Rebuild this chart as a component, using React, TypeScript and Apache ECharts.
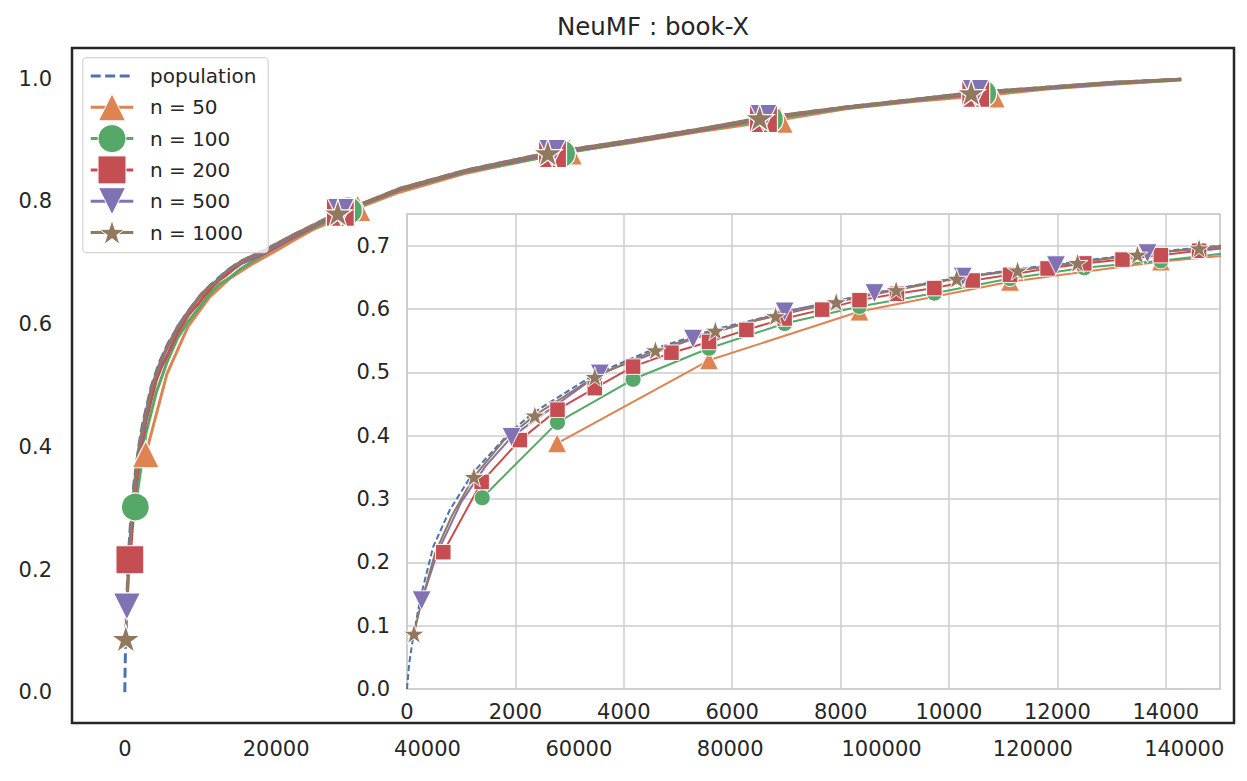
import React, { useEffect, useRef } from 'react';
import * as echarts from 'echarts';

// ---------------- data ----------------
const xPop = [0, 40, 110, 250, 485, 792, 1222, 1898, 2328, 3465, 4584, 5689, 6801, 7919, 9025, 10142, 11266, 12372, 13478, 14614, 15600, 18700, 22200, 26600, 30500, 36300, 45100, 55900, 67100, 76000, 83900, 89200, 95300, 104200, 111850, 121800, 130600, 139600];
const yPop = [0, 0.04, 0.08, 0.145, 0.225, 0.283, 0.342, 0.405, 0.436, 0.497, 0.538, 0.568, 0.591, 0.613, 0.632, 0.649, 0.663, 0.675, 0.687, 0.697, 0.704, 0.722, 0.745, 0.772, 0.792, 0.821, 0.851, 0.879, 0.900, 0.918, 0.935, 0.944, 0.954, 0.966, 0.977, 0.986, 0.994, 0.999];

const x50 = [2770, 5572, 8349, 11126, 13910, 16690, 19470, 22250, 25030, 27810, 30770, 36300, 45100, 58730, 67100, 76000, 86570, 95300, 104200, 114610, 121800, 130600, 139100];
const y50 = [0.388, 0.519, 0.596, 0.643, 0.675, 0.697, 0.716, 0.736, 0.755, 0.770, 0.789, 0.815, 0.846, 0.881, 0.896, 0.914, 0.933, 0.951, 0.963, 0.974, 0.983, 0.991, 0.998];
const mainMarks50 = [0, 10, 13, 16, 19];
const insetMarks50 = [0, 1, 2, 3, 4];

const x100 = [1388, 2777, 4171, 5572, 6967, 8349, 9730, 11126, 12496, 13909, 15300, 18700, 22200, 29550, 36300, 45100, 57710, 67100, 76000, 85190, 95300, 104200, 113360, 121800, 130600, 139600];
const y100 = [0.302, 0.421, 0.489, 0.538, 0.577, 0.604, 0.625, 0.648, 0.665, 0.676, 0.690, 0.716, 0.740, 0.785, 0.818, 0.848, 0.878, 0.897, 0.915, 0.934, 0.952, 0.964, 0.976, 0.984, 0.992, 0.998];
const mainMarks100 = [0, 13, 16, 19, 22];
const insetMarks100 = [0, 1, 2, 3, 4, 5, 6, 7, 8, 9];

const x200 = [669, 1377, 2083, 2777, 3465, 4171, 4879, 5572, 6261, 6967, 7660, 8349, 9040, 9730, 10437, 11126, 11819, 12496, 13201, 13909, 14614, 15320, 18700, 22200, 28480, 36300, 45100, 56520, 67100, 76000, 84400, 95300, 104200, 112450, 121800, 130600, 139600];
const y200 = [0.216, 0.327, 0.393, 0.441, 0.475, 0.509, 0.531, 0.548, 0.567, 0.585, 0.599, 0.614, 0.624, 0.633, 0.645, 0.654, 0.664, 0.672, 0.678, 0.685, 0.692, 0.698, 0.717, 0.741, 0.782, 0.819, 0.849, 0.878, 0.898, 0.916, 0.935, 0.953, 0.965, 0.976, 0.985, 0.993, 0.999];
const mainMarks200 = [0, 24, 27, 30, 33];
const insetMarks200 = [0, 1, 2, 3, 4, 5, 6, 7, 8, 9, 10, 11, 12, 13, 14, 15, 16, 17, 18, 19, 20];

const x500 = [271, 560, 1000, 1450, 1929, 3557, 5277, 6967, 8625, 10253, 11973, 13662, 15340, 18700, 22200, 28560, 36300, 45100, 56480, 67100, 76000, 84400, 95300, 104200, 112420, 121800, 130600, 139600];
const y500 = [0.140, 0.215, 0.295, 0.352, 0.398, 0.498, 0.553, 0.596, 0.625, 0.651, 0.669, 0.688, 0.700, 0.719, 0.743, 0.783, 0.820, 0.850, 0.879, 0.899, 0.917, 0.936, 0.953, 0.965, 0.977, 0.985, 0.993, 0.999];
const mainMarks500 = [0, 15, 18, 21, 24];
const insetMarks500 = [0, 4, 5, 6, 7, 8, 9, 10, 11];

const x1000 = [129, 260, 520, 830, 1235, 1790, 2359, 3465, 4584, 5689, 6801, 7919, 9025, 10142, 11266, 12372, 13478, 14614, 15600, 18700, 22200, 28150, 36300, 45100, 55900, 67100, 76000, 83900, 95300, 104200, 111850, 121800, 130600, 139600];
const y1000 = [0.0875, 0.135, 0.215, 0.274, 0.335, 0.393, 0.432, 0.493, 0.535, 0.566, 0.589, 0.611, 0.630, 0.648, 0.661, 0.673, 0.686, 0.696, 0.704, 0.722, 0.745, 0.781, 0.821, 0.851, 0.879, 0.900, 0.918, 0.936, 0.954, 0.966, 0.977, 0.986, 0.994, 0.999];
const mainMarks1000 = [0, 21, 24, 27, 30];
const insetMarks1000 = [0, 4, 6, 7, 8, 9, 10, 11, 12, 13, 14, 15, 16, 17];

const mainXTicks = [0, 20000, 40000, 60000, 80000, 100000, 120000, 140000];
const mainYTicks = [0, 0.2, 0.4, 0.6, 0.8, 1.0];
const seriesNames = ['population', 'n = 50', 'n = 100', 'n = 200', 'n = 500', 'n = 1000'];
const TITLE = 'NeuMF : book-X';

// ---------------- styles ----------------
const FONT = 'DejaVu Sans';
const TXT = '#262626';
const COLORS = ['#4C72B0', '#DD8452', '#55A868', '#C44E52', '#8172B3', '#937860'];

function starPath(): string {
  const pts: string[] = [];
  for (let k = 0; k < 10; k++) {
    const r = k % 2 === 0 ? 1 : 0.381966;
    const a = -Math.PI / 2 + (k * Math.PI) / 5;
    pts.push(`${(r * Math.cos(a)).toFixed(4)} ${(r * Math.sin(a)).toFixed(4)}`);
  }
  return 'path://M' + pts.join(' L') + ' Z';
}
function starPoints(cx: number, cy: number, R: number): number[][] {
  const pts: number[][] = [];
  for (let k = 0; k < 10; k++) {
    const r = k % 2 === 0 ? R : R * 0.381966;
    const a = -Math.PI / 2 + (k * Math.PI) / 5;
    pts.push([cx + r * Math.cos(a), cy + r * Math.sin(a)]);
  }
  return pts;
}

const STAR = starPath();

type Def = {
  name: string; xs: number[]; ys: number[]; color: string; symbol: string; rotate: number;
  dashed: boolean; mainMarks: number[]; insetMarks: number[]; mainSize: number; insetSize: number;
};

const defs: Def[] = [
  { name: seriesNames[0], xs: xPop, ys: yPop, color: COLORS[0], symbol: 'none', rotate: 0, dashed: true, mainMarks: [], insetMarks: [], mainSize: 0, insetSize: 0 },
  { name: seriesNames[1], xs: x50, ys: y50, color: COLORS[1], symbol: 'triangle', rotate: 0, dashed: false, mainMarks: mainMarks50, insetMarks: insetMarks50, mainSize: 27, insetSize: 19 },
  { name: seriesNames[2], xs: x100, ys: y100, color: COLORS[2], symbol: 'circle', rotate: 0, dashed: false, mainMarks: mainMarks100, insetMarks: insetMarks100, mainSize: 28, insetSize: 16 },
  { name: seriesNames[3], xs: x200, ys: y200, color: COLORS[3], symbol: 'rect', rotate: 0, dashed: false, mainMarks: mainMarks200, insetMarks: insetMarks200, mainSize: 28, insetSize: 15.5 },
  { name: seriesNames[4], xs: x500, ys: y500, color: COLORS[4], symbol: 'triangle', rotate: 180, dashed: false, mainMarks: mainMarks500, insetMarks: insetMarks500, mainSize: 27, insetSize: 19 },
  { name: seriesNames[5], xs: x1000, ys: y1000, color: COLORS[5], symbol: STAR, rotate: 0, dashed: false, mainMarks: mainMarks1000, insetMarks: insetMarks1000, mainSize: 29, insetSize: 21 },
];

function buildSeries(d: Def, inset: boolean): any {
  const marks = inset ? d.insetMarks : d.mainMarks;
  const data = d.xs.map((x, i) => ({
    value: [x, d.ys[i]],
    symbol: marks.indexOf(i) >= 0 ? d.symbol : 'none',
  }));
  return {
    type: 'line',
    name: d.name,
    xAxisIndex: inset ? 1 : 0,
    yAxisIndex: inset ? 1 : 0,
    data,
    showSymbol: true,
    showAllSymbol: true,
    symbol: d.symbol,
    symbolSize: inset ? d.insetSize : d.mainSize,
    symbolRotate: d.rotate,
    symbolKeepAspect: true,
    clip: true,
    silent: true,
    z: inset ? 4 : 2,
    lineStyle: {
      color: d.color,
      width: inset ? 2 : 3,
      type: d.dashed ? (inset ? [6, 3] : [10, 4.5]) : 'solid',
    },
    itemStyle: { color: d.color, borderColor: '#ffffff', borderWidth: inset ? 0.9 : 1.2, opacity: 1 },
  };
}

function legendGraphic(): any[] {
  const els: any[] = [];
  els.push({
    type: 'rect', z: 100,
    shape: { x: 82.7, y: 57.7, width: 185.5, height: 195, r: 4 },
    style: { fill: 'rgba(255,255,255,0.8)', stroke: '#d4d4d4', lineWidth: 1.2 },
  });
  const rows = [76, 107.3, 138.6, 169.9, 201.2, 232.5];
  const cx = 112;
  defs.forEach((d, i) => {
    const y = rows[i];
    els.push({
      type: 'line', z: 101,
      shape: { x1: 90.7, y1: y, x2: 133.3, y2: y },
      style: { stroke: d.color, lineWidth: 3, lineDash: d.dashed ? [10, 4.5] : null },
    });
    const st = { fill: d.color, stroke: '#ffffff', lineWidth: 1 };
    const h = 13.5;
    if (i === 1) els.push({ type: 'polygon', z: 102, shape: { points: [[cx, y - h], [cx - h, y + h], [cx + h, y + h]] }, style: st });
    if (i === 2) els.push({ type: 'circle', z: 102, shape: { cx, cy: y, r: 14 }, style: st });
    if (i === 3) els.push({ type: 'rect', z: 102, shape: { x: cx - 14, y: y - 14, width: 28, height: 28 }, style: st });
    if (i === 4) els.push({ type: 'polygon', z: 102, shape: { points: [[cx - h, y - h], [cx + h, y - h], [cx, y + h]] }, style: st });
    if (i === 5) els.push({ type: 'polygon', z: 102, shape: { points: starPoints(cx, y + 1, 13.5) }, style: st });
    els.push({
      type: 'text', z: 102, x: 150, y,
      style: { text: d.name, fontSize: 20, fontFamily: FONT, fill: TXT, verticalAlign: 'middle', align: 'left' },
    });
  });
  return els;
}

export default function App() {
  const ref = useRef<HTMLDivElement>(null);
  useEffect(() => {
    document.body.style.margin = '0';
    if (!ref.current) return;
    const chart = echarts.init(ref.current, undefined, { renderer: 'svg' });
    const fmt1 = (v: number) => v.toFixed(1);
    const fmt0 = (v: number) => String(Math.round(v));
    const labelBase = { fontSize: 21, color: TXT, fontFamily: FONT };
    const option: any = {
      animation: false,
      backgroundColor: '#ffffff',
      tooltip: { show: false },
      grid: [
        { left: 72, top: 48, width: 1162, height: 675, show: true, borderColor: '#262626', borderWidth: 2.5, backgroundColor: 'rgba(0,0,0,0)' },
        { left: 407, top: 214, width: 813, height: 475, show: true, borderColor: '#cccccc', borderWidth: 1.7, backgroundColor: '#ffffff' },
      ],
      xAxis: [
        {
          type: 'value', gridIndex: 0, min: -6980, max: 146580,
          splitLine: { show: false }, axisLine: { show: false }, axisTick: { show: false },
          axisLabel: { ...labelBase, margin: 15, customValues: mainXTicks, formatter: fmt0 },
        },
        {
          type: 'value', gridIndex: 1, min: 0, max: 15000, interval: 2000,
          splitLine: { show: true, lineStyle: { color: '#cccccc', width: 1.5 } },
          axisLine: { show: false }, axisTick: { show: false },
          axisLabel: { ...labelBase, margin: 12, showMaxLabel: false, formatter: fmt0 },
        },
      ],
      yAxis: [
        {
          type: 'value', gridIndex: 0, min: -0.05, max: 1.05,
          splitLine: { show: false }, axisLine: { show: false }, axisTick: { show: false },
          axisLabel: { ...labelBase, margin: 20, customValues: mainYTicks, formatter: fmt1 },
        },
        {
          type: 'value', gridIndex: 1, min: 0, max: 0.75, interval: 0.1,
          splitLine: { show: true, lineStyle: { color: '#cccccc', width: 1.5 } },
          axisLine: { show: false }, axisTick: { show: false },
          axisLabel: { ...labelBase, margin: 17, showMaxLabel: false, formatter: fmt1 },
        },
      ],
      series: [
        ...defs.map((d) => buildSeries(d, false)),
        ...defs.map((d) => buildSeries(d, true)),
      ],
      graphic: [
        {
          type: 'text', z: 100, x: 653, y: 26,
          style: { text: TITLE, fontSize: 24.5, fontFamily: FONT, fill: TXT, align: 'center', verticalAlign: 'middle' },
        },
        ...legendGraphic(),
      ],
    };
    chart.setOption(option);
    return () => chart.dispose();
  }, []);
  return <div ref={ref} style={{ position: 'relative', width: 1247, height: 781, background: '#fff' }} />;
}
